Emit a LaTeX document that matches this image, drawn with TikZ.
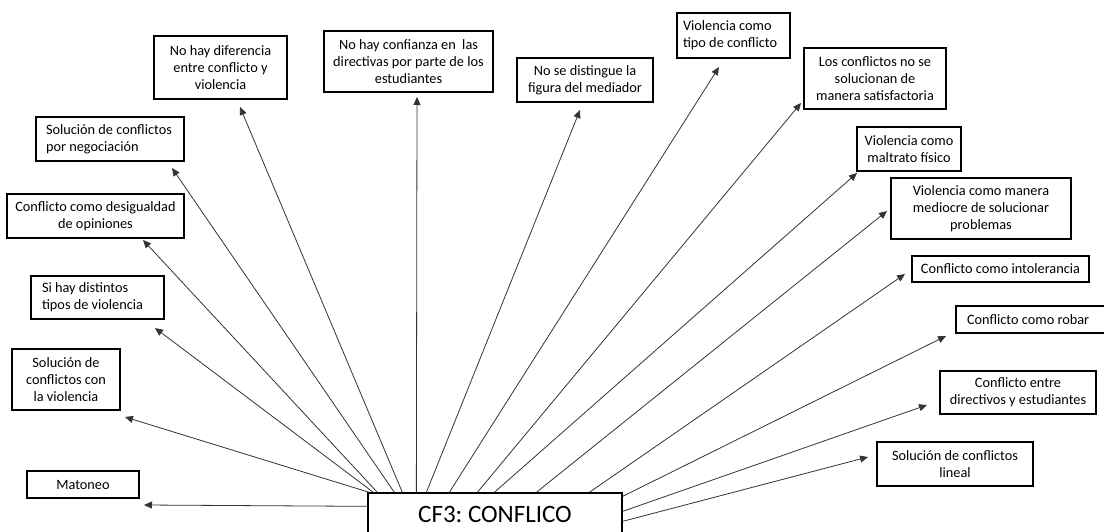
\documentclass[tikz,border=0pt]{standalone}
\usepackage{fontspec}
\setmainfont{Carlito}
\frenchspacing
\usetikzlibrary{arrows.meta,calc}
\begin{document}
\begin{tikzpicture}[x=1pt,y=-1pt,
  box/.style={draw=black,line width=1.3pt,inner sep=0pt,font=\fontsize{14.3}{16.7}\selectfont,align=flush center},
  lbox/.style={box,align=flush left},
  arr/.style={draw=black!80,line width=0.8pt,-{Triangle[length=8pt,width=7pt]}}]
\useasboundingbox (0,0) rectangle (1104,532);
\clip (0,0) rectangle (1104,532);
% boxes
\node[box,minimum width=133pt,minimum height=63pt] (dif) at (220.5,67.5) {No hay diferencia\\entre conflicto y\\violencia};
\node[lbox,minimum width=148pt,minimum height=44pt,text width=128pt] (neg) at (110,139) {Solución de conflictos\\por negociación};
\node[box,minimum width=177pt,minimum height=44pt] (des) at (95.5,216) {Conflicto como desigualdad\\de opiniones};
\node[lbox,minimum width=133pt,minimum height=43pt,text width=111pt] (dist) at (97.5,297.5) {Si hay distintos\\tipos de violencia};
\node[box,minimum width=108pt,minimum height=61pt] (viol) at (66,379.5) {Solución de\\conflictos con\\la violencia};
\node[box,minimum width=112pt,minimum height=27pt] (mat) at (83,484.5) {Matoneo};
\node[box,minimum width=169pt,minimum height=61pt] (conf) at (408.5,61.5) {No hay confianza en\ \ las\\directivas por parte de los\\estudiantes};
\node[box,minimum width=136pt,minimum height=44pt] (med) at (585,80) {No se distingue la\\figura del mediador};
\node[lbox,minimum width=113pt,minimum height=45pt,text width=101pt] (tipo) at (733.5,35.5) {Violencia como\\tipo de conflicto};
\node[box,minimum width=142pt,minimum height=61pt] (sat) at (875,78.5) {Los conflictos no se\\solucionan de\\manera satisfactoria};
\node[box,minimum width=104pt,minimum height=44pt] (malt) at (909,149) {Violencia como\\maltrato físico};
\node[box,minimum width=180pt,minimum height=61pt] (medi) at (981,208.5) {Violencia como manera\\mediocre de solucionar\\problemas};
\node[box,minimum width=177pt,minimum height=26pt] (intol) at (1000.5,269) {Conflicto como intolerancia};
\node[lbox,minimum width=156pt,minimum height=27pt,text width=134pt] (robar) at (1034,319.5) {Conflicto como robar};
\node[box,minimum width=156pt,minimum height=43pt] (entre) at (1018,392.5) {Conflicto entre\\directivos y estudiantes};
\node[box,minimum width=156pt,minimum height=44pt] (lineal) at (955,464) {Solución de conflictos\\lineal};
% central
\node[box,minimum width=254pt,minimum height=43pt,font=\fontsize{25}{29}\selectfont] (c) at (495,514.5) {CF3: CONFLICO};
% arrow tips
\coordinate (t-dif) at (240,107);
\coordinate (t-neg) at (172,168);
\coordinate (t-des) at (143,240);
\coordinate (t-dist) at (155,328);
\coordinate (t-viol) at (125,417);
\coordinate (t-mat) at (144,505);
\coordinate (t-conf) at (417,97);
\coordinate (t-med) at (580,110);
\coordinate (t-tipo) at (719,67);
\coordinate (t-sat) at (801,103);
\coordinate (t-malt) at (857,173);
\coordinate (t-medi) at (887,211);
\coordinate (t-intol) at (905,274);
\coordinate (t-robar) at (946,336);
\coordinate (t-entre) at (927,405);
\coordinate (t-lineal) at (868,457);
% connectors
\draw[arr] ([xshift=2pt]c.north west) -- (t-viol);
\draw[arr] ([xshift=6pt]c.north west) -- (t-dist);
\draw[arr] ([xshift=10pt]c.north west) -- (t-des);
\draw[arr] ([xshift=27pt]c.north west) -- (t-neg);
\draw[arr] ([xshift=35pt]c.north west) -- (t-dif);
\draw[arr] ([xshift=49pt]c.north west) -- (t-conf);
\draw[arr] ([xshift=59pt]c.north west) -- (t-med);
\draw[arr] ([xshift=82pt]c.north west) -- (t-tipo);
\draw[arr] ([xshift=110pt]c.north west) -- (t-sat);
\draw[arr] ([xshift=127pt]c.north west) -- (t-malt);
\draw[arr] ([xshift=169pt]c.north west) -- (t-medi);
\draw[arr] ([xshift=222pt]c.north west) -- (t-intol);
\draw[arr] ([yshift=-4pt]c.north east) -- (t-robar);
\draw[arr] ([yshift=-19pt]c.north east) -- (t-entre);
\draw[arr] ([yshift=-29pt]c.north east) -- (t-lineal);
\draw[arr] ([yshift=-14pt]c.north west) -- (t-mat);
\end{tikzpicture}
\end{document}
